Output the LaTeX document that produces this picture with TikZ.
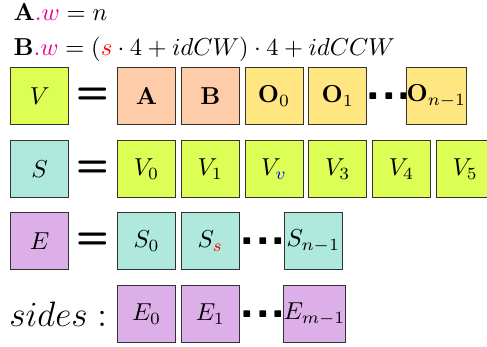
\documentclass[tikz,border=0pt]{standalone}
\usepackage{amsmath}
\usepackage{bm}
\usetikzlibrary{positioning}
\definecolor{vcol}{RGB}{221,255,85}
\definecolor{abcol}{RGB}{255,204,170}
\definecolor{ocol}{RGB}{255,230,128}
\definecolor{scol}{RGB}{175,233,221}
\definecolor{ecol}{RGB}{221,175,233}

\begin{document}
\begin{tikzpicture}[node distance=0.07cm,
  cell/.style={draw=black!80,minimum size=0.83cm,inner sep=0pt},
  eqsign/.style={font=\fontsize{15.5pt}{18pt}\sffamily\bfseries,inner sep=0pt},
  dotsign/.style={font=\huge\sffamily\bfseries,inner sep=0pt}]
\useasboundingbox (0,0) rectangle (6.984,-4.976);
\node[anchor=base west,font=\fontsize{10.3pt}{12pt}\selectfont] (wa) at (0.07,-0.30) {$\mathbf{A}{\color{magenta}.w}=n$};
\node[anchor=base west,font=\fontsize{10.3pt}{12pt}\selectfont] (wb) at (0.07,-0.79) {$\mathbf{B}{\color{magenta}.w}=({\color{red}s}\cdot4+idCW)\cdot4+idCCW$};
% V = A B O ...
\node[cell,fill=vcol] (v) at (0.569,-1.377) {$V$};
\node[eqsign] (eqv) at (1.334,-1.377) {=};
\node[cell,fill=abcol] (a) at (2.102,-1.377) {$\mathbf{A}$};
\node[cell,fill=abcol,right=of a] (b) {$\mathbf{B}$};
\node[cell,fill=ocol,right=of b] (o0) {$\mathbf{O}_0$};
\node[cell,fill=ocol,right=of o0] (o1) {$\mathbf{O}_1$};
\node[dotsign,right=-0.03cm of o1] (odots) {...};
\node[cell,fill=ocol,right=-0.095cm of odots] (on) {$\mathbf{O}_{n-1}$};
% S = V ...
\node[cell,fill=scol] (s) at (0.569,-2.423) {$S$};
\node[eqsign] (eqs) at (1.334,-2.423) {=};
\node[cell,fill=vcol] (v0) at (2.102,-2.423) {$V_0$};
\node[cell,fill=vcol,right=of v0] (v1) {$V_1$};
\node[cell,fill=vcol,right=of v1] (vv) {$V_{\color{blue}v}$};
\node[cell,fill=vcol,right=of vv] (v3) {$V_3$};
\node[cell,fill=vcol,right=of v3] (v4) {$V_4$};
\node[cell,fill=vcol,right=of v4] (v5) {$V_5$};
% E = S ...
\node[cell,fill=ecol] (e) at (0.569,-3.456) {$E$};
\node[eqsign] (eqe) at (1.334,-3.456) {=};
\node[cell,fill=scol] (s0) at (2.102,-3.456) {$S_0$};
\node[cell,fill=scol,right=of s0] (ss) {$S_{\color{red}s}$};
\node[dotsign,right=-0.01cm of ss] (sdots) {...};
\node[cell,fill=scol,right=-0.04cm of sdots] (sn) {$S_{n-1}$};
% sides
\node[cell,fill=ecol] (e0) at (2.102,-4.503) {$E_0$};
\node[font=\Large,anchor=east] (sides) at (1.66,-4.503) {$sides:$};
\node[cell,fill=ecol,right=of e0] (e1) {$E_1$};
\node[dotsign,right=-0.01cm of e1] (edots) {...};
\node[cell,fill=ecol,right=-0.05cm of edots] (em) {$E_{m-1}$};
\end{tikzpicture}
\end{document}
